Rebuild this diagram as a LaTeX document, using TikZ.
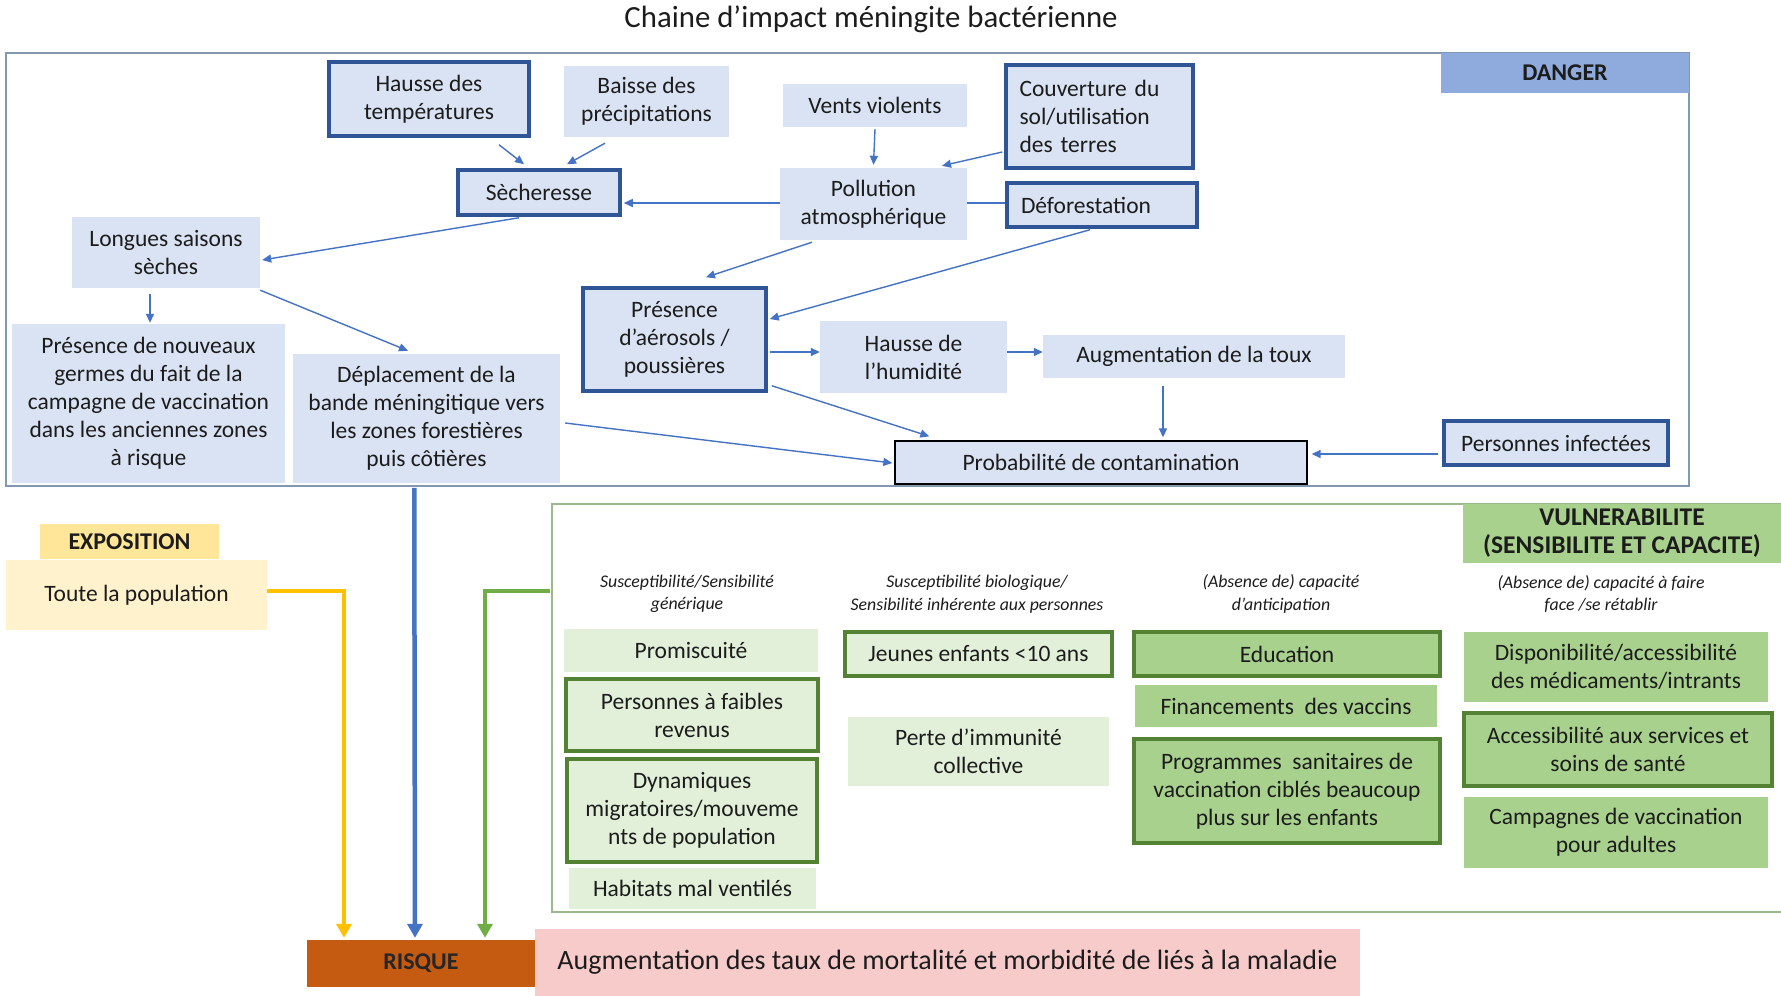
\documentclass[tikz,border=0pt]{standalone}
\usepackage{fontspec}
\setmainfont{Carlito}
\usetikzlibrary{arrows.meta,calc}
\definecolor{lblue}{HTML}{DAE3F3}
\definecolor{dblue}{HTML}{2F5597}
\definecolor{arrblue}{HTML}{4472C4}
\definecolor{dangerfill}{HTML}{8FAADC}
\definecolor{framegray}{HTML}{8497B0}
\definecolor{expofill}{HTML}{FFE699}
\definecolor{toutefill}{HTML}{FFF2CC}
\definecolor{yel}{HTML}{FFC000}
\definecolor{grn}{HTML}{70AD47}
\definecolor{vframe}{HTML}{9DB88D}
\definecolor{vfill}{HTML}{A9D18E}
\definecolor{lgreen}{HTML}{E2F0D9}
\definecolor{dgreen}{HTML}{548235}
\definecolor{risq}{HTML}{C55A11}
\definecolor{pinkfill}{HTML}{F8CBCB}
\definecolor{txt}{HTML}{1C1C1C}
\begin{document}
\begin{tikzpicture}[x=1pt,y=-1pt,
  box/.style={inner sep=0pt, align=center, text=txt, font=\fontsize{23.5}{28}\selectfont},
  lb/.style={box, fill=lblue},
  lbt/.style={lb, draw=dblue, line width=3.5pt},
  lg/.style={box, fill=lgreen},
  lgt/.style={lg, draw=dgreen, line width=3.5pt},
  mg/.style={box, fill=vfill},
  mgt/.style={mg, draw=dgreen, line width=3.5pt},
  hdr/.style={inner sep=0pt, align=center, text=txt, font=\fontsize{17.8}{22.5}\selectfont\itshape},
  lbl/.style={inner sep=0pt, align=center, text=txt, font=\fontsize{24}{28}\selectfont\bfseries},
  arr/.style={draw=arrblue, line width=1.4pt, -{Triangle[length=9pt,width=8pt]}},
  bigarr/.style={line width=4.5pt, -{Triangle[length=14pt,width=15pt]}}
]
\useasboundingbox (0,0) rectangle (1781,996);
\fill[white] (0,0) rectangle (1781,996);

% title
\node[inner sep=0pt, text=txt, font=\fontsize{30.8}{36}\selectfont] (title) at (871,19) {Chaine d’impact méningite bactérienne};

% DANGER frame
\node[draw=framegray, line width=1.5pt, inner sep=0pt, minimum width=1683pt, minimum height=433pt] (dangerframe) at (847.5,269.5) {};
\node[lbl, fill=dangerfill, minimum width=248pt, minimum height=40pt] (danger) at (1565,73) {DANGER};

% danger nodes
\node[lbt, minimum width=200pt, minimum height=74pt] (htemp) at (429,99) {Hausse des\\températures};
\node[lb, minimum width=165pt, minimum height=71pt] (baisse) at (646.5,101.5) {Baisse des\\précipitations};
\node[lb, minimum width=184pt, minimum height=43pt] (vents) at (875,105.5) {Vents violents};
\node[lbt, minimum width=187pt, minimum height=103pt, align=left, text width=160pt] (couv) at (1099.5,116.5) {Couverture du\\sol/utilisation\\des terres};
\node[lbt, minimum width=162pt, minimum height=45pt] (sech) at (539,192.5) {Sècheresse};
\node[lb, minimum width=187pt, minimum height=72pt] (poll) at (873.5,204) {Pollution\\atmosphérique};
\node[lbt, minimum width=190pt, minimum height=44pt, align=left, text width=162pt] (defor) at (1102,205) {Déforestation};
\node[lb, minimum width=188pt, minimum height=71pt] (longues) at (166,252.5) {Longues saisons\\sèches};
\node[lb, minimum width=273pt, minimum height=159pt] (germes) at (148.5,403.5) {Présence de nouveaux\\germes du fait de la\\campagne de vaccination\\dans les anciennes zones\\à risque};
\node[lb, minimum width=267pt, minimum height=129pt] (deplac) at (426.5,418.5) {Déplacement de la\\bande méningitique vers\\les zones forestières\\puis côtières};
\node[lbt, minimum width=183pt, minimum height=103pt] (aeros) at (674.5,339.5) {Présence\\d’aérosols /\\poussières};
\node[lb, minimum width=187pt, minimum height=72pt] (humid) at (913.5,357) {Hausse de\\l’humidité};
\node[lb, minimum width=302pt, minimum height=43pt] (toux) at (1194,356.5) {Augmentation de la toux};
\node[lb, draw=black, line width=1.3pt, minimum width=412pt, minimum height=43pt] (proba) at (1101,462.5) {Probabilité de contamination};
\node[lbt, minimum width=224pt, minimum height=44pt] (infect) at (1556,443) {Personnes infectées};

% danger arrows
\draw[arr] ($(htemp.south)+(70,7)$) -- ($(sech.north)+(-15,-4)$);
\draw[arr] ($(baisse.south)+(-41.5,6)$) -- ($(sech.north)+(28,-4)$);
\draw[arr] ($(vents.south)+(0,2)$) -- ($(poll.north)+(0,-3)$);
\draw[arr] ($(couv.west)+(-2,35.5)$) -- ($(poll.north)+(68.5,-2)$);
\draw[draw=arrblue, line width=1.4pt] ($(poll.east)+(0,-1)$) -- ($(defor.west)+(0,-2)$);
\draw[arr] ($(poll.west)+(0,-1)$) -- ($(sech.east)+(2,10.5)$);
\draw[arr] ($(sech.south)+(-20,1)$) -- ($(longues.east)+(2,7.5)$);
\draw[arr] ($(longues.south)+(-16,6)$) -- ($(germes.north)+(1.5,-1)$);
\draw[arr] ($(longues.south east)+(0,2)$) -- ($(deplac.north)+(-18.5,-3)$);
\draw[arr] ($(poll.south)+(-61.5,2)$) -- ($(aeros.north)+(31.5,-9)$);
\draw[arr] ($(defor.south)+(-12,1)$) -- ($(aeros.east)+(2,-20.5)$);
\draw[arr] ($(aeros.east)+(2,12.5)$) -- ($(humid.west)+(0,-5)$);
\draw[arr] ($(humid.east)+(0,-5)$) -- ($(toux.west)+(0,-4.5)$);
\draw[arr] ($(toux.south)+(-31,8)$) -- ($(proba.north)+(62,-3)$);
\draw[arr] ($(aeros.south east)+(4,-7)$) -- ($(proba.north west)+(35,-4)$);
\draw[arr] ($(deplac.east)+(5,4.5)$) -- ($(proba.west)+(-2,0.5)$);
\draw[arr] ($(infect.west)+(-4,11)$) -- ($(proba.east)+(4,-8.5)$);

% EXPOSITION
\node[lbl, fill=expofill, minimum width=179pt, minimum height=35pt] (expo) at (129.5,541.5) {EXPOSITION};
\node[box, fill=toutefill, minimum width=261pt, minimum height=70pt] (toute) at (136.5,595) {Toute la population};

% VULNERABILITE frame
\draw[draw=vframe, line width=1.3pt] (1790,504) -- (552,504) -- (552,912) -- (1790,912);
\coordinate (vulnW) at (550,591);
\node[lbl, fill=vfill, minimum width=318pt, minimum height=59pt, font=\fontsize{25.5}{28}\selectfont\bfseries] (vuln) at (1622,533.5) {VULNERABILITE\\(SENSIBILITE ET CAPACITE)};

% headers
\node[hdr] (h1) at (687,594) {Susceptibilité/Sensibilité\\générique};
\node[hdr] (h2) at (977,594) {Susceptibilité biologique/\\Sensibilité inhérente aux personnes};
\node[hdr] (h3) at (1281,594) {(Absence de) capacité\\d’anticipation};
\node[hdr] (h4) at (1601,594) {(Absence de) capacité à faire\\face /se rétablir};

% column 1
\node[lg, minimum width=254pt, minimum height=43pt] (prom) at (691,650.5) {Promiscuité};
\node[lgt, minimum width=252pt, minimum height=72pt] (faibles) at (692,715) {Personnes à faibles\\revenus};
\node[lgt, minimum width=250pt, minimum height=103pt] (dyn) at (692,810.5) {Dynamiques\\migratoires/mouveme\\nts de population};
\node[lg, minimum width=247pt, minimum height=41pt] (habit) at (692.5,888.5) {Habitats mal ventilés};
% column 2
\node[lgt, minimum width=267pt, minimum height=44pt] (jeunes) at (978.5,654) {Jeunes enfants <10 ans};
\node[lg, minimum width=261pt, minimum height=69pt] (perte) at (978.5,751.5) {Perte d’immunité\\collective};
% column 3
\node[mgt, minimum width=306pt, minimum height=44pt] (educ) at (1287,654) {Education};
\node[mg, minimum width=302pt, minimum height=42pt] (financ) at (1286,706) {Financements\ \ des vaccins};
\node[mgt, minimum width=306pt, minimum height=104pt] (progr) at (1287,791) {Programmes\ \ sanitaires de\\vaccination ciblés beaucoup\\plus sur les enfants};
% column 4
\node[mg, minimum width=304pt, minimum height=70pt] (dispo) at (1616,667) {Disponibilité/accessibilité\\des médicaments/intrants};
\node[mgt, minimum width=308pt, minimum height=73pt] (acces) at (1618,749.5) {Accessibilité aux services et\\soins de santé};
\node[mg, minimum width=304pt, minimum height=71pt] (campa) at (1616,832.5) {Campagnes de vaccination\\pour adultes};

% RISQUE
\node[lbl, fill=risq, minimum width=228pt, minimum height=47pt, text=black!85] (risque) at (421,963.5) {RISQUE};
\node[box, fill=pinkfill, minimum width=825pt, minimum height=67pt, font=\fontsize{28}{34}\selectfont] (augm) at (947.5,962.5) {Augmentation des taux de mortalité et morbidité de liés à la maladie};

% big arrows
\draw[bigarr, draw=yel] ($(toute.east)+(0,-4)$) -| ($(risque.north)+(-77,-2)$);
\draw[bigarr, draw=arrblue] ($(dangerframe.south west)+(409,1)$) -- ($(risque.north)+(-6,-2)$);
\draw[bigarr, draw=grn] (vulnW) -| ($(risque.north)+(64,-2)$);
\end{tikzpicture}
\end{document}
